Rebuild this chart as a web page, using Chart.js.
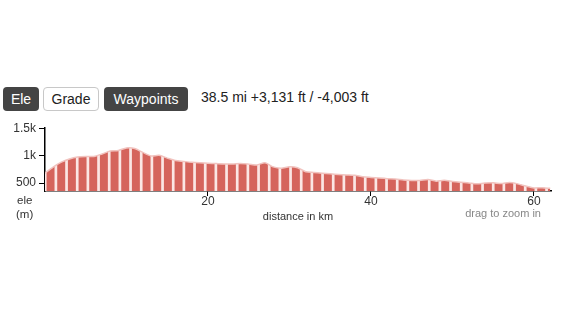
<!DOCTYPE html>
<html>
<head>
<meta charset="utf-8">
<script src="https://cdn.jsdelivr.net/npm/chart.js@4.4.0/dist/chart.umd.min.js"></script>
<style>
  body { margin: 0; background: #fff; font-family: "Liberation Sans", Arial, Helvetica, sans-serif; color: #222; }
  .wrap { position: relative; width: 570px; height: 319px; overflow: hidden; }
  .btn { position: absolute; top: 87px; height: 24px; line-height: 24px; font-size: 14px; text-align: center; border-radius: 4px; box-sizing: border-box; }
  .dark { background: #444; color: #fff; }
  .light { background: #fff; color: #222; border: 1px solid #c8c8c8; line-height: 22px; }
  .stats { position: absolute; left: 201px; top: 89px; font-size: 14px; color: #222; }
  .lbl { position: absolute; font-size: 11.5px; color: #333; }
  #chartBox { position: absolute; left: 0; top: 118px; width: 570px; height: 110px; }
</style>
</head>
<body>
<div class="wrap">
  <div class="btn dark" style="left:3px;width:36px;">Ele</div>
  <div class="btn light" style="left:43px;width:56px;">Grade</div>
  <div class="btn dark" style="left:104px;width:84px;">Waypoints</div>
  <div class="stats">38.5 mi +3,131 ft / -4,003 ft</div>
  <div id="chartBox"><canvas id="myChart" width="570" height="110"></canvas></div>
  <div class="lbl" style="left:17px;top:194px;">ele</div>
  <div class="lbl" style="left:16px;top:208px;">(m)</div>
  <div class="lbl" style="right:29px;top:207px;color:#888;font-size:11px;">drag to zoom in</div>
</div>
<script>
// distancia en km y elevacion en metros
const distKm = [0, 1, 2, 3, 4, 5, 6, 7, 8, 9, 10, 11, 12, 13, 14, 15, 16, 17, 18, 19, 20,
  21, 22, 23, 24, 25, 26, 27, 28, 29, 30, 31, 32, 33, 34, 35, 36, 37, 38, 39, 40,
  41, 42, 43, 44, 45, 46, 47, 48, 49, 50, 51, 52, 53, 54, 55, 56, 57, 58, 59, 60, 61, 62];
const eleM = [680, 790, 880, 940, 975, 985, 985, 1030, 1085, 1095, 1140, 1130, 1060, 995, 1005, 955, 910, 895, 880, 870, 862,
  855, 848, 846, 855, 845, 830, 870, 795, 770, 797, 780, 705, 694, 680, 668, 657, 648, 640, 616, 602,
  590, 580, 575, 555, 545, 548, 565, 535, 550, 530, 515, 502, 485, 500, 505, 490, 510, 485, 445, 410, 415, 403];
const yTicks = [500, 1000, 1500];
const yTickLabels = ['500', '1k', '1.5k'];
const xTicks = [20, 40, 60];

// patron de franjas rojo / rosa
function makeStripes() {
  const c = document.createElement('canvas');
  c.width = 32; c.height = 4;
  const g = c.getContext('2d');
  g.fillStyle = '#d5645c';
  g.fillRect(0, 0, 32, 4);
  g.fillStyle = '#fbe6e4';
  [1.2, 11.87, 22.53].forEach(x => g.fillRect(x, 0, 2.7, 4));
  return g.createPattern(c, 'repeat');
}

const ctx = document.getElementById('myChart').getContext('2d');

const myChart = new Chart(ctx, {
  type: 'line',
  data: {
    datasets: [{
      data: distKm.map((d, i) => ({ x: d, y: eleM[i] })),
      backgroundColor: makeStripes(),
      borderColor: '#f1c3bf',
      borderWidth: 1.5,
      pointRadius: 0,
      tension: 0.25,
      fill: 'start'
    }]
  },
  options: {
    responsive: false,
    animation: false,
    devicePixelRatio: 1,
    layout: { padding: { top: 10, right: 19, left: 0, bottom: 0 } },
    plugins: { legend: { display: false }, tooltip: { enabled: false } },
    scales: {
      x: {
        type: 'linear',
        min: 0,
        max: 62.1,
        afterBuildTicks: s => { s.ticks = xTicks.map(v => ({ value: v })); },
        afterFit: s => { s.height = 37; },
        grid: { drawOnChartArea: false, drawTicks: true, tickLength: 5, color: '#000' },
        border: { display: true, color: '#000', width: 1.5 },
        ticks: { color: '#333', font: { size: 12 }, padding: -2, maxRotation: 0 },
        title: { display: true, text: 'distance in km', color: '#333', font: { size: 11 }, padding: { top: 0, bottom: 4 } }
      },
      y: {
        min: 355,
        max: 1500,
        afterBuildTicks: s => { s.ticks = yTicks.map(v => ({ value: v })); },
        afterFit: s => { s.width = 45; },
        grid: { drawOnChartArea: false, drawTicks: true, tickLength: 6, color: '#000' },
        border: { display: true, color: '#000', width: 1.5 },
        ticks: {
          color: '#333', font: { size: 12 }, padding: 3,
          callback: v => yTickLabels[yTicks.indexOf(v)]
        }
      }
    }
  }
});
</script>
</body>
</html>
